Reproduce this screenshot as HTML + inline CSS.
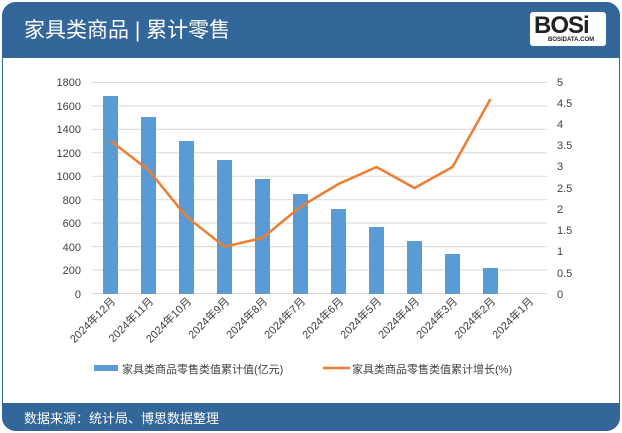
<!DOCTYPE html>
<html><head><meta charset="utf-8"><style>
body{margin:0;background:#fff;}
.w{position:relative;width:622px;height:433px;overflow:hidden;background:#fff;font-family:"Liberation Sans","Noto Sans CJK SC",sans-serif;}
.hd{position:absolute;left:2px;top:2px;width:618px;height:56px;background:#336699;border-radius:14px 14px 0 0;}
.ft{position:absolute;left:2px;top:403px;width:618px;height:28px;background:#336699;border-radius:0 0 14px 14px;}
.frame{position:absolute;left:2px;top:2px;width:616px;height:427px;border:1px solid #336699;border-radius:14px;}
</style></head><body><div class="w">
<div class="frame"></div>
<div class="hd"></div>
<div style="position:absolute;left:24px;top:14px;color:#fff;font-size:21px;">家具类商品 | 累计零售</div>
<div style="position:absolute;left:530px;top:12px;width:76px;height:34px;background:#fff;border-radius:3px;">
<div style="position:absolute;left:4px;top:0px;font:bold 24px 'Liberation Sans',sans-serif;color:#222;letter-spacing:-1px;">BOSi</div>
<div style="position:absolute;left:18px;top:25px;font:bold 6px 'Liberation Sans',sans-serif;color:#222;">BOSIDATA.COM</div></div>
<div class="ft"></div>
<div style="position:absolute;left:24px;top:408px;color:#fff;font-size:13px;">数据来源：统计局、博思数据整理</div>
<svg width="622" height="433" style="position:absolute;left:0;top:0" font-family="Liberation Sans, Noto Sans CJK SC, sans-serif">
<g stroke="#d9d9d9" stroke-width="1">
<line x1="92" x2="547" y1="82.5" y2="82.5"/><line x1="92" x2="547" y1="105.9" y2="105.9"/><line x1="92" x2="547" y1="129.4" y2="129.4"/><line x1="92" x2="547" y1="152.8" y2="152.8"/><line x1="92" x2="547" y1="176.3" y2="176.3"/><line x1="92" x2="547" y1="199.7" y2="199.7"/><line x1="92" x2="547" y1="223.1" y2="223.1"/><line x1="92" x2="547" y1="246.6" y2="246.6"/><line x1="92" x2="547" y1="270" y2="270"/><line x1="92" x2="547" y1="293.5" y2="293.5"/>
</g>
<g font-size="11" fill="#404040" text-anchor="end">
<text x="81" y="86">1800</text><text x="81" y="110">1600</text><text x="81" y="133">1400</text><text x="81" y="157">1200</text><text x="81" y="180">1000</text><text x="81" y="204">800</text><text x="81" y="227">600</text><text x="81" y="251">400</text><text x="81" y="274">200</text><text x="81" y="298">0</text>
</g>
<g font-size="11" fill="#404040">
<text x="557" y="86">5</text><text x="557" y="107">4.5</text><text x="557" y="128">4</text><text x="557" y="149">3.5</text><text x="557" y="170">3</text><text x="557" y="192">2.5</text><text x="557" y="213">2</text><text x="557" y="234">1.5</text><text x="557" y="255">1</text><text x="557" y="277">0.5</text><text x="557" y="298">0</text>
</g>
<g fill="#5b9bd5">
<rect x="103" y="96" width="15" height="198"/><rect x="141" y="117" width="15" height="177"/><rect x="179" y="141" width="15" height="153"/><rect x="217" y="160" width="15" height="134"/><rect x="255" y="179" width="15" height="115"/><rect x="293" y="194" width="15" height="100"/><rect x="331" y="209" width="15" height="85"/><rect x="369" y="227" width="15" height="67"/><rect x="407" y="241" width="15" height="53"/><rect x="445" y="254" width="15" height="40"/><rect x="483" y="268" width="15" height="26"/>
</g>
<polyline fill="none" stroke="#ed7d31" stroke-width="2.5" stroke-linejoin="round" points="110.5,140.7 148.5,170 186.5,216.7 224.5,246.7 262.5,238 300.5,206.7 338.5,184 376.5,167 414.5,188 452.5,167 490.5,99"/>
<g font-size="11" fill="#404040" text-anchor="end">
<text transform="translate(116,302) rotate(-45)">2024年12月</text>
<text transform="translate(154,302) rotate(-45)">2024年11月</text>
<text transform="translate(192,302) rotate(-45)">2024年10月</text>
<text transform="translate(230,302) rotate(-45)">2024年9月</text>
<text transform="translate(268,302) rotate(-45)">2024年8月</text>
<text transform="translate(306,302) rotate(-45)">2024年7月</text>
<text transform="translate(344,302) rotate(-45)">2024年6月</text>
<text transform="translate(382,302) rotate(-45)">2024年5月</text>
<text transform="translate(420,302) rotate(-45)">2024年4月</text>
<text transform="translate(458,302) rotate(-45)">2024年3月</text>
<text transform="translate(496,302) rotate(-45)">2024年2月</text>
<text transform="translate(534,302) rotate(-45)">2024年1月</text>
</g>
<rect x="94" y="365" width="24" height="6" fill="#5b9bd5"/>
<text x="122" y="373" font-size="11" fill="#404040">家具类商品零售类值累计值(亿元)</text>
<line x1="323" x2="350" y1="368" y2="368" stroke="#ed7d31" stroke-width="2.5"/>
<text x="352" y="373" font-size="11" fill="#404040">家具类商品零售类值累计增长(%)</text>
</svg>
</div></body></html>
